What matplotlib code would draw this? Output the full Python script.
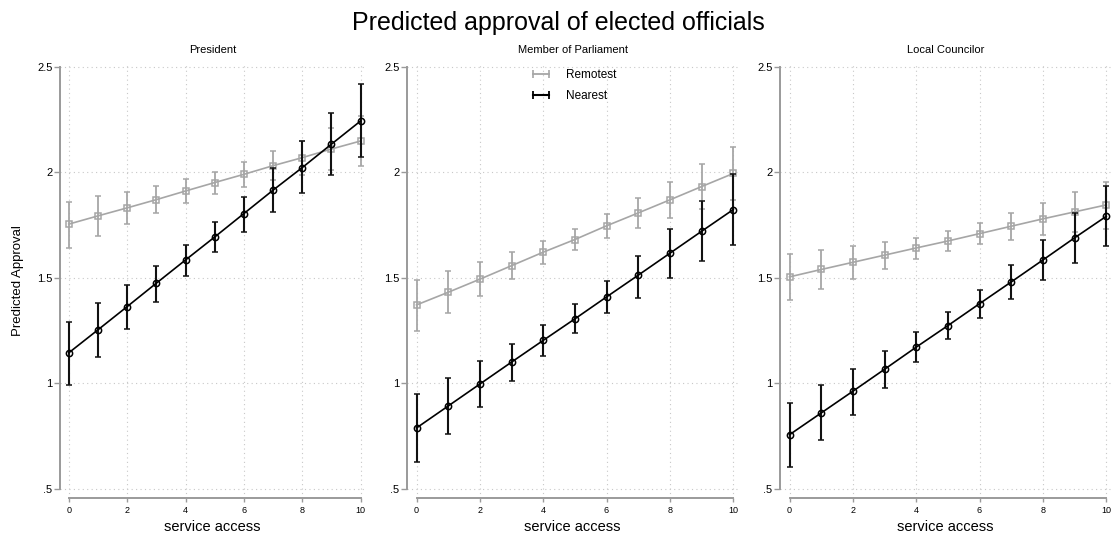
import numpy as np
import matplotlib.pyplot as plt
from matplotlib.lines import Line2D
from matplotlib.ticker import FuncFormatter

plt.rcParams['font.family'] = ['Liberation Sans', 'DejaVu Sans']

access = np.arange(0, 11)
offices = ['President', 'Member of Parliament', 'Local Councilor']

# predicted approval with lower / upper 95% bounds
remote_pres = [1.754, 1.793, 1.831, 1.870, 1.911, 1.951, 1.990, 2.031, 2.069, 2.110, 2.148]
remote_pres_lo = [1.640, 1.698, 1.754, 1.806, 1.853, 1.896, 1.932, 1.963, 1.986, 2.011, 2.030]
remote_pres_hi = [1.861, 1.888, 1.908, 1.935, 1.967, 2.003, 2.049, 2.099, 2.150, 2.208, 2.267]
near_pres = [1.144, 1.253, 1.363, 1.474, 1.584, 1.693, 1.804, 1.915, 2.022, 2.133, 2.243]
near_pres_lo = [0.992, 1.126, 1.259, 1.387, 1.509, 1.621, 1.719, 1.812, 1.900, 1.987, 2.071]
near_pres_hi = [1.292, 1.379, 1.466, 1.556, 1.657, 1.764, 1.884, 2.022, 2.150, 2.280, 2.417]

remote_mp = [1.371, 1.431, 1.493, 1.557, 1.621, 1.681, 1.746, 1.807, 1.869, 1.932, 1.994]
remote_mp_lo = [1.249, 1.333, 1.414, 1.493, 1.567, 1.630, 1.687, 1.737, 1.782, 1.826, 1.869]
remote_mp_hi = [1.490, 1.532, 1.575, 1.621, 1.673, 1.731, 1.801, 1.877, 1.956, 2.038, 2.120]
near_mp = [0.788, 0.892, 0.996, 1.100, 1.203, 1.305, 1.409, 1.512, 1.616, 1.720, 1.823]
near_mp_lo = [0.625, 0.757, 0.885, 1.009, 1.128, 1.237, 1.333, 1.403, 1.498, 1.578, 1.654]
near_mp_hi = [0.949, 1.027, 1.106, 1.188, 1.275, 1.374, 1.486, 1.603, 1.731, 1.863, 1.992]

remote_lc = [1.504, 1.539, 1.573, 1.607, 1.641, 1.674, 1.709, 1.744, 1.779, 1.812, 1.845]
remote_lc_lo = [1.395, 1.445, 1.496, 1.542, 1.589, 1.627, 1.659, 1.681, 1.704, 1.717, 1.733]
remote_lc_hi = [1.614, 1.630, 1.649, 1.668, 1.690, 1.722, 1.760, 1.806, 1.855, 1.905, 1.956]
near_lc = [0.756, 0.859, 0.962, 1.066, 1.171, 1.273, 1.377, 1.480, 1.584, 1.689, 1.791]
near_lc_lo = [0.603, 0.731, 0.850, 0.978, 1.100, 1.209, 1.310, 1.401, 1.488, 1.569, 1.651]
near_lc_hi = [0.908, 0.991, 1.068, 1.155, 1.242, 1.338, 1.444, 1.561, 1.681, 1.809, 1.937]

remote = [(remote_pres, remote_pres_lo, remote_pres_hi),
          (remote_mp, remote_mp_lo, remote_mp_hi),
          (remote_lc, remote_lc_lo, remote_lc_hi)]
near = [(near_pres, near_pres_lo, near_pres_hi),
        (near_mp, near_mp_lo, near_mp_hi),
        (near_lc, near_lc_lo, near_lc_hi)]

W, H = 1117, 540
fig = plt.figure(figsize=(W / 100, H / 100), dpi=100)

# panel placement in pixels: left edge, width
panel_px = [(60, 305), (407, 331), (780, 331)]
top_px, bottom_px = 62.5, 498

GRAY = '#a6a6a6'
AXIS = '#9a9a9a'

for i, (left, width) in enumerate(panel_px):
    ax = fig.add_axes([left / W, 1 - bottom_px / H, width / W, (bottom_px - top_px) / H])
    ax.set_xlim(-0.3, 10.15)
    ax.set_ylim(0.456, 2.52)

    m, lo, hi = [np.array(v) for v in remote[i]]
    ax.errorbar(access, m, yerr=[m - lo, hi - m], color=GRAY, ecolor=GRAY,
                lw=1.2, elinewidth=1.3, capsize=2.5, capthick=1.2,
                marker='s', ms=4.5, mfc='none', mec=GRAY, mew=1.1, zorder=3)
    m, lo, hi = [np.array(v) for v in near[i]]
    ax.errorbar(access, m, yerr=[m - lo, hi - m], color='black', ecolor='#111111',
                lw=1.2, elinewidth=1.5, capsize=2.5, capthick=1.3,
                marker='o', ms=4.5, mfc='none', mec='black', mew=1.1, zorder=4)

    ax.set_xticks(np.arange(0, 11, 2))
    ax.set_yticks([0.5, 1, 1.5, 2, 2.5])
    ax.yaxis.set_major_formatter(FuncFormatter(lambda v, p: f'{v:g}'.lstrip('0')))
    ax.grid(True, color='#c8c8c8', linestyle=(0, (1, 3)), linewidth=0.8)
    ax.set_axisbelow(True)

    for s in ['top', 'right']:
        ax.spines[s].set_visible(False)
    ax.spines['left'].set_bounds(0.5, 2.5)
    ax.spines['bottom'].set_bounds(0, 10)
    for s in ['left', 'bottom']:
        ax.spines[s].set_color(AXIS)
        ax.spines[s].set_linewidth(1.4)
    ax.tick_params(axis='y', colors=AXIS, labelcolor='black', labelsize=8,
                   length=4, width=1, pad=1.5)
    ax.tick_params(axis='x', colors=AXIS, labelcolor='black', labelsize=6.5,
                   length=3, width=1, pad=2.5)

    ax.set_title(offices[i], fontsize=8, pad=7)
    ax.set_xlabel('service access', fontsize=10.5, labelpad=4)
    if i == 0:
        ax.set_ylabel('Predicted Approval', fontsize=9.5, labelpad=9)
    if i == 1:
        handles = [Line2D([], [], color=GRAY, lw=1.3, marker='|', ms=6, mew=1.2),
                   Line2D([], [], color='black', lw=1.5, marker='|', ms=6, mew=1.3)]
        ax.legend(handles, ['Remotest', 'Nearest'], loc='upper center',
                  bbox_to_anchor=(0.50, 1.01), frameon=False, fontsize=8.5,
                  numpoints=2, handlelength=2.0, handletextpad=1.1,
                  labelspacing=0.8)

fig.suptitle('Predicted approval of elected officials', fontsize=18, y=0.98)

fig.savefig('out.png', dpi=100)
